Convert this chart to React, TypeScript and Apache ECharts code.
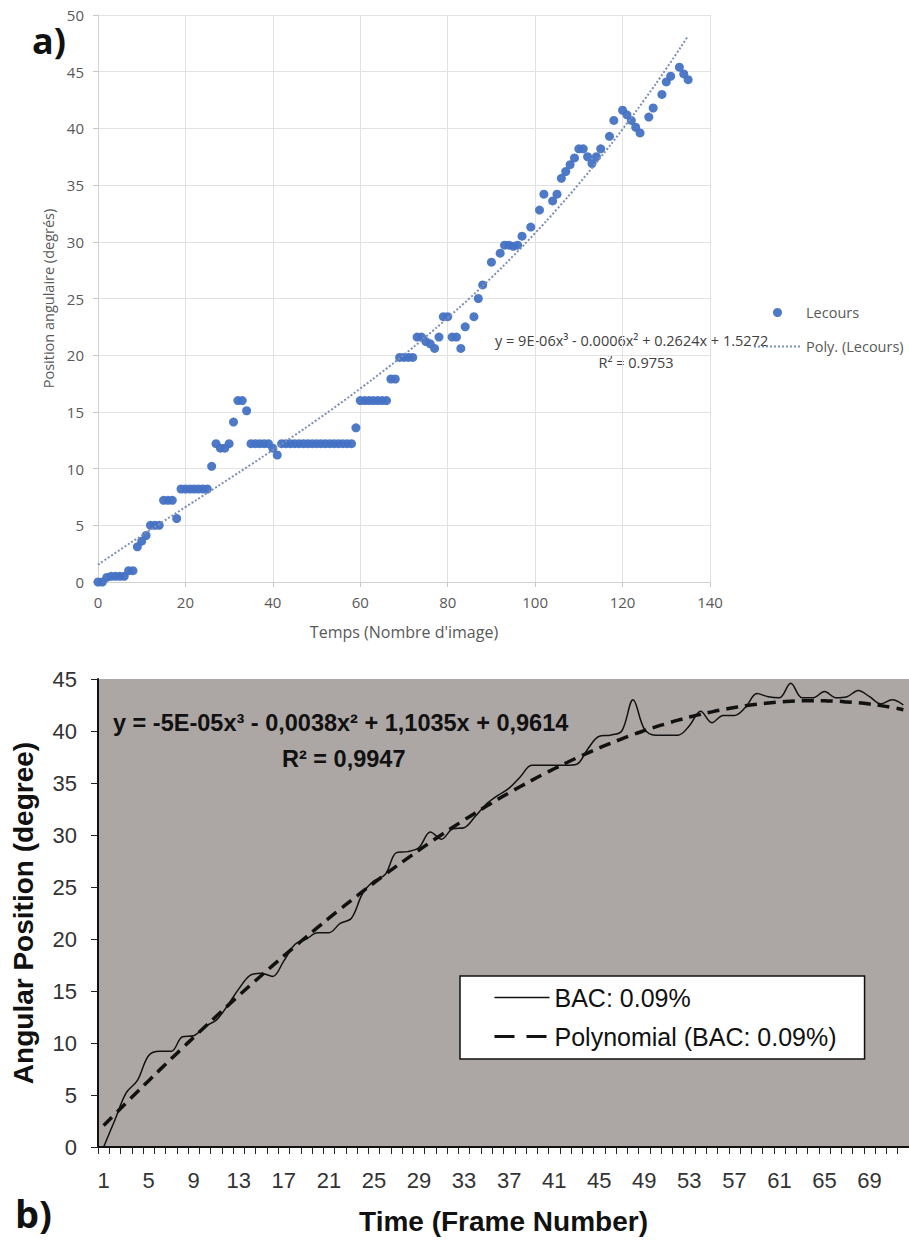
import React, { useEffect, useRef } from "react";
import * as echarts from "echarts";

// ---------- Chart a) data ----------
const framesA = [
  0, 1, 2, 3, 4, 5, 6, 7, 8, 9, 10, 11, 12, 13, 14, 15, 16, 17, 18, 19, 20, 21, 22, 23, 24, 25, 26, 27, 28, 29,
  30, 31, 32, 33, 34, 35, 36, 37, 38, 39, 40, 41, 42, 43, 44, 45, 46, 47, 48, 49, 50, 51, 52, 53, 54, 55, 56, 57, 58, 59,
  60, 61, 62, 63, 64, 65, 66, 67, 68, 69, 70, 71, 72, 73, 74, 75, 76, 77, 78, 79, 80, 81, 82, 83, 84,
  86, 87, 88, 90, 92, 93, 94, 95, 96, 97, 99, 101, 102, 104, 105, 106, 107, 108, 109, 110, 111, 112, 113, 114, 115,
  117, 118, 120, 121, 122, 123, 124, 126, 127, 129, 130, 131, 133, 134, 135,
];
const anglesA = [
  0, 0, 0.4, 0.5, 0.5, 0.5, 0.5, 1.0, 1.0, 3.1, 3.6, 4.1, 5.0, 5.0, 5.0, 7.2, 7.2, 7.2, 5.6, 8.2, 8.2, 8.2, 8.2, 8.2, 8.2, 8.2, 10.2, 12.2, 11.8, 11.8,
  12.2, 14.1, 16.0, 16.0, 15.1, 12.2, 12.2, 12.2, 12.2, 12.2, 11.8, 11.2, 12.2, 12.2, 12.2, 12.2, 12.2, 12.2, 12.2, 12.2, 12.2, 12.2, 12.2, 12.2, 12.2, 12.2, 12.2, 12.2, 12.2, 13.6,
  16.0, 16.0, 16.0, 16.0, 16.0, 16.0, 16.0, 17.9, 17.9, 19.8, 19.8, 19.8, 19.8, 21.6, 21.6, 21.2, 21.0, 20.6, 21.6, 23.4, 23.4, 21.6, 21.6, 20.6, 22.5,
  23.4, 25.0, 26.2, 28.2, 29.0, 29.7, 29.7, 29.6, 29.7, 30.5, 31.3, 32.8, 34.2, 33.6, 34.2, 35.6, 36.2, 36.8, 37.4, 38.2, 38.2, 37.5, 36.9, 37.5, 38.2,
  39.3, 40.7, 41.6, 41.2, 40.7, 40.1, 39.6, 41.0, 41.8, 43.0, 44.1, 44.6, 45.4, 44.8, 44.3,
];
const trendXA = [0, 5, 10, 15, 20, 25, 30, 35, 40, 45, 50, 55, 60, 65, 70, 75, 80, 85, 90, 95, 100, 105, 110, 115, 120, 125, 130, 135];
const trendYA = [1.53, 2.83, 4.1, 5.36, 6.61, 7.85, 9.1, 10.36, 11.64, 12.94, 14.27, 15.64, 17.06, 18.52, 20.04, 21.63, 23.29, 25.02, 26.84, 28.76, 30.77, 32.88, 35.11, 37.46, 39.93, 42.53, 45.27, 48.16];

// ---------- Chart b) data ----------
const framesB = [
  "1", "2", "3", "4", "5", "6", "7", "8", "9", "10", "11", "12", "13", "14", "15", "16", "17", "18", "19", "20", "21", "22", "23", "24",
  "25", "26", "27", "28", "29", "30", "31", "32", "33", "34", "35", "36", "37", "38", "39", "40", "41", "42", "43", "44", "45", "46", "47", "48",
  "49", "50", "51", "52", "53", "54", "55", "56", "57", "58", "59", "60", "61", "62", "63", "64", "65", "66", "67", "68", "69", "70", "71", "72",
];
const bacB = [
  0, 2.6, 5.2, 6.4, 8.8, 9.2, 9.2, 10.6, 10.7, 11.6, 12.2, 13.6, 15.2, 16.5, 16.7, 16.4, 17.9, 19.5, 20.0, 20.6, 20.6, 21.5, 22.0, 24.4,
  25.6, 26.2, 28.3, 28.4, 28.8, 30.3, 29.6, 30.6, 30.7, 31.8, 33.0, 33.8, 34.5, 35.6, 36.7, 36.7, 36.7, 36.7, 36.8, 38.3, 39.5, 39.6, 40.0, 43.0,
  40.2, 39.6, 39.6, 39.6, 40.5, 41.9, 40.8, 41.5, 41.5, 42.3, 43.6, 43.3, 43.2, 44.6, 43.2, 43.2, 43.8, 43.2, 43.3, 43.9, 43.3, 42.6, 43.0, 42.5,
];
const polyB = [
  2.06, 3.15, 4.24, 5.31, 6.38, 7.44, 8.48, 9.52, 10.55, 11.57, 12.57, 13.57, 14.56, 15.53, 16.49, 17.44, 18.38, 19.3, 20.21, 21.11, 22.0, 22.87, 23.72, 24.57,
  25.39, 26.21, 27.0, 27.78, 28.55, 29.3, 30.03, 30.74, 31.44, 32.12, 32.79, 33.43, 34.06, 34.66, 35.25, 35.82, 36.37, 36.9, 37.41, 37.9, 38.37, 38.82, 39.24, 39.65,
  40.03, 40.39, 40.72, 41.04, 41.33, 41.6, 41.84, 42.06, 42.26, 42.43, 42.57, 42.69, 42.79, 42.86, 42.9, 42.91, 42.9, 42.87, 42.8, 42.71, 42.59, 42.44, 42.26, 42.05,
];

const OPEN = '"Open Sans", "Noto Sans", sans-serif';
const ARIAL = '"Liberation Sans", Arial, sans-serif';

export default function App() {
  const ref = useRef<HTMLDivElement>(null);

  useEffect(() => {
    if (!ref.current) return;
    const chart = echarts.init(ref.current, null, { renderer: "svg" });
    const lecours = framesA.map((f, i) => [f, anglesA[i]]);
    const trend = trendXA.map((x, i) => [x, trendYA[i]]);

    const option: any = {
      animation: false,
      textStyle: { fontFamily: OPEN },
      grid: [
        { left: 98, top: 15, width: 612, height: 567 },
        { left: 98, top: 679, width: 811, height: 468, show: true, backgroundColor: "#aca6a4", borderWidth: 0 },
      ],
      xAxis: [
        {
          gridIndex: 0,
          type: "value",
          min: 0,
          max: 140,
          interval: 20,
          name: "Temps (Nombre d'image)",
          nameLocation: "middle",
          nameGap: 42,
          nameTextStyle: { color: "#595959", fontSize: 16, fontFamily: OPEN },
          axisLine: { show: true, lineStyle: { color: "#d0d0d0", width: 1 } },
          axisTick: { show: true, length: 5, lineStyle: { color: "#c8c8c8" } },
          axisLabel: { color: "#595959", fontSize: 15, margin: 12, fontFamily: OPEN },
          splitLine: { show: true, lineStyle: { color: "#e2e2e2", width: 1 } },
        },
        {
          gridIndex: 1,
          type: "category",
          data: framesB,
          boundaryGap: true,
          name: "Time (Frame Number)",
          nameLocation: "middle",
          nameGap: 60,
          nameTextStyle: { color: "#111", fontSize: 28, fontWeight: "bold", fontFamily: ARIAL },
          axisLine: { show: true, lineStyle: { color: "#111", width: 2 } },
          axisTick: { show: true, interval: 0, length: 7, lineStyle: { color: "#222", width: 1 } },
          axisLabel: { interval: 3, color: "#333", fontSize: 22, margin: 22, fontFamily: ARIAL },
          splitLine: { show: false },
        },
      ],
      yAxis: [
        {
          gridIndex: 0,
          type: "value",
          min: 0,
          max: 50,
          interval: 5,
          name: "Position angulaire (degrés)",
          nameLocation: "middle",
          nameGap: 40,
          nameTextStyle: { color: "#595959", fontSize: 14.5, fontFamily: OPEN },
          axisLine: { show: true, lineStyle: { color: "#d0d0d0", width: 1 } },
          axisTick: { show: true, length: 5, lineStyle: { color: "#c8c8c8" } },
          axisLabel: { color: "#595959", fontSize: 15, margin: 14, fontFamily: OPEN },
          splitLine: { show: true, lineStyle: { color: "#e2e2e2", width: 1 } },
        },
        {
          gridIndex: 1,
          type: "value",
          min: 0,
          max: 45,
          interval: 5,
          name: "Angular Position (degree)",
          nameLocation: "middle",
          nameGap: 61,
          nameTextStyle: { color: "#111", fontSize: 28, fontWeight: "bold", fontFamily: ARIAL },
          axisLine: { show: true, lineStyle: { color: "#111", width: 2 } },
          axisTick: { show: true, length: 7, lineStyle: { color: "#222", width: 1 } },
          axisLabel: { color: "#333", fontSize: 22, margin: 21, fontFamily: ARIAL },
          splitLine: { show: false },
        },
      ],
      legend: [
        {
          orient: "vertical",
          left: 753,
          top: 305,
          padding: 0,
          itemWidth: 47,
          itemHeight: 9,
          itemGap: 19,
          textStyle: { color: "#595959", fontSize: 14.5, fontFamily: OPEN },
          data: [
            { name: "Lecours", icon: "circle" },
            { name: "Poly. (Lecours)", itemStyle: { opacity: 0 } },
          ],
        },
        {
          orient: "vertical",
          left: 460,
          top: 976,
          padding: [9, 28, 10, 33],
          backgroundColor: "#ffffff",
          borderColor: "#111",
          borderWidth: 1.5,
          itemWidth: 55,
          itemHeight: 14,
          itemGap: 14,
          textStyle: { color: "#111", fontSize: 25, fontFamily: ARIAL },
          data: [
            { name: "BAC: 0.09%", lineStyle: { width: 1.5 }, itemStyle: { opacity: 0 } },
            { name: "Polynomial (BAC: 0.09%)", lineStyle: { width: 3, type: [20, 12] }, itemStyle: { opacity: 0 } },
          ],
        },
      ],
      series: [
        {
          name: "Lecours",
          type: "scatter",
          xAxisIndex: 0,
          yAxisIndex: 0,
          data: lecours,
          symbolSize: 9,
          itemStyle: { color: "#4472c4", opacity: 0.95 },
          z: 2,
        },
        {
          name: "Poly. (Lecours)",
          type: "line",
          xAxisIndex: 0,
          yAxisIndex: 0,
          data: trend,
          smooth: true,
          symbol: "none",
          lineStyle: { color: "#7d8fb8", width: 2, type: "dotted" },
          itemStyle: { color: "#7d8fb8" },
          z: 3,
        },
        {
          name: "BAC: 0.09%",
          type: "line",
          xAxisIndex: 1,
          yAxisIndex: 1,
          data: bacB,
          smooth: 0.35,
          symbol: "none",
          lineStyle: { color: "#111", width: 1.5 },
          itemStyle: { color: "#111" },
          z: 3,
        },
        {
          name: "Polynomial (BAC: 0.09%)",
          type: "line",
          xAxisIndex: 1,
          yAxisIndex: 1,
          data: polyB,
          smooth: true,
          symbol: "none",
          lineStyle: { color: "#111", width: 3.5, type: [12, 7] },
          itemStyle: { color: "#111" },
          z: 4,
        },
      ],
      graphic: [
        {
          type: "text",
          x: 32,
          y: 40,
          style: { text: "a)", font: `bold 36px ${OPEN}`, fill: "#111", align: "left", verticalAlign: "middle", textAlign: "left", textVerticalAlign: "middle" },
        },
        {
          type: "text",
          x: 495,
          y: 340,
          style: { text: "y = 9E-06x³ - 0.0006x² + 0.2624x + 1.5272", font: `14.5px ${OPEN}`, fill: "#404040", align: "left", verticalAlign: "middle", textAlign: "left", textVerticalAlign: "middle" },
        },
        {
          type: "text",
          x: 636,
          y: 362,
          style: { text: "R² = 0.9753", font: `14.5px ${OPEN}`, fill: "#404040", align: "center", verticalAlign: "middle", textAlign: "center", textVerticalAlign: "middle" },
        },
        {
          type: "text",
          x: 113,
          y: 723,
          style: { text: "y = -5E-05x³ - 0,0038x² + 1,1035x + 0,9614", font: `bold 23.5px ${ARIAL}`, fill: "#111", align: "left", verticalAlign: "middle", textAlign: "left", textVerticalAlign: "middle" },
        },
        {
          type: "text",
          x: 282,
          y: 759,
          style: { text: "R² = 0,9947", font: `bold 23.5px ${ARIAL}`, fill: "#111", align: "left", verticalAlign: "middle", textAlign: "left", textVerticalAlign: "middle" },
        },
        {
          type: "text",
          x: 15,
          y: 1213,
          style: { text: "b)", font: `bold 38px ${OPEN}`, fill: "#111", align: "left", verticalAlign: "middle", textAlign: "left", textVerticalAlign: "middle" },
        },
      ],
    };

    chart.setOption(option);
    return () => {
      chart.dispose();
    };
  }, []);

  return (
    <div
      ref={ref}
      style={{ position: "absolute", left: 0, top: 0, width: 909, height: 1240, background: "#ffffff" }}
    />
  );
}
